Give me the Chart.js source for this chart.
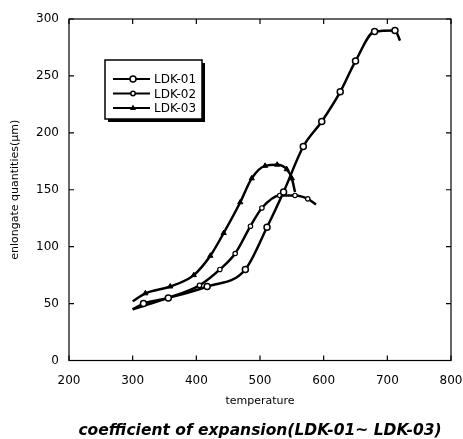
<!DOCTYPE html>
<html>
<head>
<meta charset="utf-8">
<script src="https://cdn.jsdelivr.net/npm/chart.js@4.4.0/dist/chart.umd.min.js"></script>
<style>
html, body { margin: 0; padding: 0; background: #fff; }
</style>
</head>
<body>
<canvas id="expChart" width="463" height="439"></canvas>
<script>
// thermal elongation of the three samples, read per temperature (°C)

const ldk01Temp = [300, 317, 356, 417, 477, 511, 537, 568, 597, 626, 650, 680, 712, 720];
const ldk01Elong = [45, 50, 55, 65, 80, 117, 148, 188, 210, 236, 263, 289, 290, 281];

const ldk02Temp = [300, 356, 405, 437, 461, 485, 503, 531, 555, 575, 588];
const ldk02Elong = [45, 55, 66, 80, 94, 118, 134, 145, 145, 142, 137];

const ldk03Temp = [300, 320, 359, 396, 422, 443, 469, 487, 508, 527, 542, 550, 555];
const ldk03Elong = [52, 59, 65, 75, 92, 112, 139, 160, 171, 172, 168, 160, 148];

const seriesNames = ['LDK-01', 'LDK-02', 'LDK-03'];
const xTicks = [200, 300, 400, 500, 600, 700, 800];
const yTicks = [0, 50, 100, 150, 200, 250, 300];

function toPoints(xs, ys) {
  return xs.map((x, i) => ({x: x, y: ys[i]}));
}

// no marker on the open ends of a curve
function endless(r) {
  return ctx => (ctx.dataIndex === 0 || ctx.dataIndex === ctx.dataset.data.length - 1) ? 0 : r;
}

Chart.defaults.font.family = "'DejaVu Sans', sans-serif";
Chart.defaults.color = '#000';

// box round the plot + inward ticks on every side
const frameTicks = {
  id: 'frameTicks',
  afterDatasetsDraw(chart) {
    const {ctx, chartArea: a, scales} = chart;
    const len = 5;
    ctx.save();
    ctx.strokeStyle = '#000';
    ctx.lineWidth = 1.2;
    ctx.strokeRect(a.left, a.top, a.right - a.left, a.bottom - a.top);
    ctx.beginPath();
    xTicks.forEach(v => {
      const px = scales.x.getPixelForValue(v);
      ctx.moveTo(px, a.bottom); ctx.lineTo(px, a.bottom - len);
      ctx.moveTo(px, a.top); ctx.lineTo(px, a.top + len);
    });
    yTicks.forEach(v => {
      const py = scales.y.getPixelForValue(v);
      ctx.moveTo(a.left, py); ctx.lineTo(a.left + len, py);
      ctx.moveTo(a.right, py); ctx.lineTo(a.right - len, py);
    });
    ctx.stroke();
    ctx.restore();
  }
};

function drawMarker(ctx, style, r, x, y) {
  ctx.beginPath();
  if (style === 'triangle') {
    ctx.moveTo(x, y - r * 1.2);
    ctx.lineTo(x + r, y + r * 0.7);
    ctx.lineTo(x - r, y + r * 0.7);
    ctx.closePath();
    ctx.fillStyle = '#000';
    ctx.fill();
  } else {
    ctx.arc(x, y, r, 0, Math.PI * 2);
    ctx.fillStyle = '#fff';
    ctx.fill();
    ctx.lineWidth = 1.5;
    ctx.stroke();
  }
}

// framed legend with a drop shadow, sitting inside the plot
const boxLegend = {
  id: 'boxLegend',
  afterDraw(chart) {
    const ctx = chart.ctx;
    const L = 105, T = 60, W = 97, H = 59;
    ctx.save();
    ctx.fillStyle = '#000';
    ctx.fillRect(L + 3, T + 3, W, H);
    ctx.fillStyle = '#fff';
    ctx.fillRect(L, T, W, H);
    ctx.strokeStyle = '#000';
    ctx.lineWidth = 1.5;
    ctx.strokeRect(L, T, W, H);
    chart.data.datasets.forEach((ds, i) => {
      const y = T + 19 + i * 14.5;
      ctx.strokeStyle = '#000';
      ctx.lineWidth = 2.2;
      ctx.beginPath();
      ctx.moveTo(L + 8, y);
      ctx.lineTo(L + 45, y);
      ctx.stroke();
      drawMarker(ctx, ds.pointStyle, ds.legendRadius, L + 28, y);
      ctx.fillStyle = '#000';
      ctx.font = "12px 'DejaVu Sans', sans-serif";
      ctx.textBaseline = 'middle';
      ctx.fillText(ds.label, L + 49, y + 1);
    });
    ctx.restore();
  }
};

const data = {
  datasets: [{
    label: seriesNames[0],
    data: toPoints(ldk01Temp, ldk01Elong),
    borderColor: '#000',
    borderWidth: 2.5,
    pointStyle: 'circle',
    pointRadius: endless(3),
    pointBorderWidth: 1.5,
    pointBackgroundColor: '#fff',
    pointBorderColor: '#000',
    legendRadius: 3,
    cubicInterpolationMode: 'monotone'
  }, {
    label: seriesNames[1],
    data: toPoints(ldk02Temp, ldk02Elong),
    borderColor: '#000',
    borderWidth: 2.5,
    pointStyle: 'circle',
    pointRadius: endless(2.2),
    pointBorderWidth: 1.2,
    pointBackgroundColor: '#fff',
    pointBorderColor: '#000',
    legendRadius: 2.2,
    cubicInterpolationMode: 'monotone'
  }, {
    label: seriesNames[2],
    data: toPoints(ldk03Temp, ldk03Elong),
    borderColor: '#000',
    borderWidth: 2.5,
    pointStyle: 'triangle',
    pointRadius: endless(3),
    pointBorderWidth: 1,
    pointBackgroundColor: '#000',
    pointBorderColor: '#000',
    legendRadius: 3,
    cubicInterpolationMode: 'monotone'
  }]
};

const config = {
  type: 'line',
  data: data,
  plugins: [frameTicks, boxLegend],
  options: {
    responsive: false,
    animation: false,
    layout: {padding: {top: 19, right: 0, left: 0, bottom: 0}},
    plugins: {
      legend: {display: false},
      tooltip: {enabled: false},
      title: {
        display: true,
        fullSize: false,
        position: 'bottom',
        text: 'coefficient of expansion(LDK-01~ LDK-03)',
        color: '#000',
        font: {size: 15.5, weight: 'bold', style: 'italic', lineHeight: 1},
        padding: {top: 11, bottom: 0}
      }
    },
    scales: {
      x: {
        type: 'linear',
        min: 200,
        max: 800,
        afterBuildTicks: s => { s.ticks = xTicks.map(v => ({value: v})); },
        afterFit: s => { s.height = 52; s.paddingLeft = 0; s.paddingRight = 12; },
        grid: {display: false, drawTicks: false},
        border: {display: false},
        ticks: {font: {size: 12}, padding: 13, maxRotation: 0},
        title: {display: true, text: 'temperature', font: {size: 11}, padding: {top: 0, bottom: 5}}
      },
      y: {
        min: 0,
        max: 300,
        afterBuildTicks: s => { s.ticks = yTicks.map(v => ({value: v})); },
        afterFit: s => { s.width = 69; s.paddingTop = 0; s.paddingBottom = 0; },
        grid: {display: false, drawTicks: false},
        border: {display: false},
        ticks: {font: {size: 12}, padding: 10},
        title: {display: true, text: 'enlongate quantities(μm)', font: {size: 11}, padding: {top: 9, bottom: 0}}
      }
    }
  }
};

const expChart = new Chart(document.getElementById('expChart'), config);
</script>
</body>
</html>
